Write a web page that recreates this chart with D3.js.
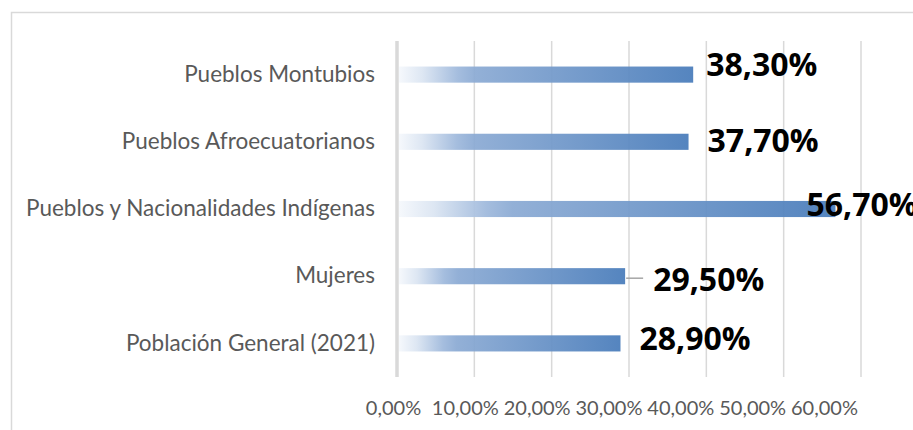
<!DOCTYPE html>
<html>
<head>
<meta charset="utf-8">
<script src="https://cdn.jsdelivr.net/npm/d3@7"></script>
<style>
  body { margin: 0; background: #fff; }
  svg { display: block; }
</style>
</head>
<body>
<div id="chart"></div>
<script>
// data
const categories = [
  'Pueblos Montubios',
  'Pueblos Afroecuatorianos',
  'Pueblos y Nacionalidades Indígenas',
  'Mujeres',
  'Población General (2021)'
];
const values = [38.3, 37.7, 56.7, 29.5, 28.9];
const tickValues = [0, 10, 20, 30, 40, 50, 60];

// hand-placed data label nudges (dx, dy from the bar end / centre)
const labelDx = [13, 19, -29, 28, 19];
const labelDy = [-10, -1, -5, 3, -5];

const width = 913;
const height = 430;
const fmt = v => v.toFixed(2).replace('.', ',') + '%';
const axisFont = 'Lato, "Open Sans", sans-serif';

const svg = d3.select('#chart')
  .append('svg')
  .attr('width', width)
  .attr('height', height);

// chart area border
svg.append('rect')
  .attr('x', 11.5)
  .attr('y', 12.5)
  .attr('width', 1000)
  .attr('height', 1000)
  .attr('fill', 'none')
  .attr('stroke', '#d9d9d9')
  .attr('stroke-width', 1.5);

const x = d3.scaleLinear()
  .domain([0, 60])
  .range([397, 861]);

const y = d3.scaleBand()
  .domain(categories)
  .range([41, 377])
  .paddingInner(0.76)
  .paddingOuter(0.38);

const defs = svg.append('defs');
const grad = defs.append('linearGradient')
  .attr('id', 'barGrad')
  .attr('x1', '0%').attr('x2', '100%')
  .attr('y1', '0%').attr('y2', '0%');
[
  [0, '#f5f8fc'],
  [0.08, '#dbe5f2'],
  [0.2, '#9fb9dc'],
  [0.26, '#8cabd4'],
  [1, '#4a7dbb']
].forEach(s => grad.append('stop').attr('offset', s[0]).attr('stop-color', s[1]));

// gridlines
svg.append('g')
  .selectAll('line')
  .data(tickValues)
  .enter()
  .append('line')
  .attr('x1', d => x(d))
  .attr('x2', d => x(d))
  .attr('y1', 41)
  .attr('y2', 377)
  .attr('stroke', '#d9d9d9')
  .attr('stroke-width', d => d === 0 ? 3.5 : 1.5);

// bars
svg.append('g')
  .selectAll('rect')
  .data(values)
  .enter()
  .append('rect')
  .attr('x', x(0) + 2)
  .attr('y', (d, i) => y(categories[i]))
  .attr('width', d => x(d) - x(0) - 2)
  .attr('height', y.bandwidth())
  .attr('fill', 'url(#barGrad)')
  .attr('fill-opacity', 0.94);

// category axis labels
svg.append('g')
  .attr('transform', 'translate(375,0)')
  .call(d3.axisLeft(y).tickSize(0).tickPadding(0))
  .call(g => g.select('.domain').remove())
  .selectAll('text')
  .attr('fill', '#595959')
  .style('font-family', axisFont)
  .style('font-size', '22.5px');

// value axis labels (Excel squeezed them together, so they sit on their own scale)
const xLab = d3.scaleLinear()
  .domain([0, 60])
  .range([393, 824]);

svg.append('g')
  .attr('transform', 'translate(0,401)')
  .call(d3.axisBottom(xLab).tickValues(tickValues).tickSize(0).tickPadding(0).tickFormat(fmt))
  .call(g => g.select('.domain').remove())
  .selectAll('text')
  .attr('fill', '#595959')
  .style('font-family', axisFont)
  .style('font-size', '20px');

// leader line for the Mujeres label
const mi = categories.indexOf('Mujeres');
svg.append('line')
  .attr('x1', x(values[mi]) + 1)
  .attr('x2', x(values[mi]) + 18)
  .attr('y1', y(categories[mi]) + y.bandwidth() / 2 + 2)
  .attr('y2', y(categories[mi]) + y.bandwidth() / 2 + 2)
  .attr('stroke', '#a6a6a6')
  .attr('stroke-width', 1.5);

// data labels
svg.append('g')
  .selectAll('text')
  .data(values)
  .enter()
  .append('text')
  .attr('x', (d, i) => x(d) + labelDx[i])
  .attr('y', (d, i) => y(categories[i]) + y.bandwidth() / 2 + labelDy[i])
  .attr('dy', '0.36em')
  .attr('fill', '#000')
  .style('font-family', '"Open Sans", "Noto Sans", sans-serif')
  .style('font-weight', 'bold')
  .style('font-size', '32px')
  .text(d => fmt(d));
</script>
</body>
</html>
